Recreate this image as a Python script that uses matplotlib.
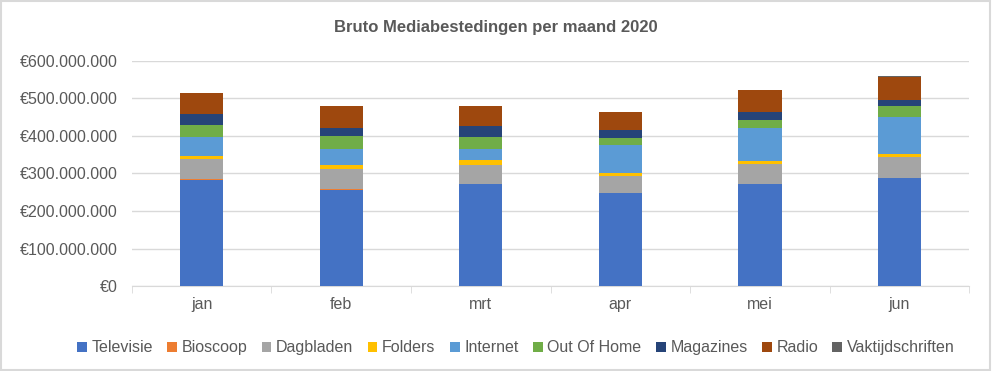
import numpy as np
import matplotlib.pyplot as plt
from matplotlib.patches import Rectangle
from matplotlib.ticker import FuncFormatter

maanden = ["jan", "feb", "mrt", "apr", "mei", "jun"]
televisie = [282, 257, 272, 247, 272, 287]
bioscoop = [2.5, 2.7, 1.0, 0.0, 0.0, 0.5]
dagbladen = [53, 53, 50, 47, 53, 55]
folders = [9, 10, 12, 6, 7, 9]
internet = [51, 42, 31, 75, 90, 100]
out_of_home = [32, 36, 32, 19, 20, 29]
magazines = [28, 21, 28, 22, 22, 16]
radio = [57, 57, 53, 47, 57, 60]
vaktijdschriften = [1.0, 1.3, 1.3, 1.0, 1.0, 3.5]

series = [
    ("Televisie", televisie, "#4472C4"),
    ("Bioscoop", bioscoop, "#ED7D31"),
    ("Dagbladen", dagbladen, "#A5A5A5"),
    ("Folders", folders, "#FFC000"),
    ("Internet", internet, "#5B9BD5"),
    ("Out Of Home", out_of_home, "#70AD47"),
    ("Magazines", magazines, "#264478"),
    ("Radio", radio, "#9E480E"),
    ("Vaktijdschriften", vaktijdschriften, "#636363"),
]

plt.rcParams["font.family"] = ["Liberation Sans", "DejaVu Sans"]
txt = "#595959"
grid = "#D9D9D9"

fig = plt.figure(figsize=(9.92, 3.71), dpi=100)
ax = fig.add_axes([0.133, 0.229, 0.844, 0.607])

x = np.arange(len(maanden))
bottom = np.zeros(len(maanden))
for naam, waarden, kleur in series:
    v = np.array(waarden) * 1e6
    ax.bar(x, v, 0.31, bottom=bottom, color=kleur, label=naam, zorder=3)
    bottom += v

ax.set_xlim(-0.5, len(maanden) - 0.5)
ax.set_ylim(0, 600e6)
ax.set_yticks(np.arange(0, 600e6 + 1, 100e6))


def euro(v, pos):
    return "€" + f"{int(v):,}".replace(",", ".")


ax.yaxis.set_major_formatter(FuncFormatter(euro))
ax.grid(axis="y", color=grid, linewidth=1, zorder=0)
for s in ["top", "right", "left"]:
    ax.spines[s].set_visible(False)
ax.spines["bottom"].set_color(grid)
ax.tick_params(axis="y", length=0, labelsize=11.5, labelcolor=txt, pad=10)
ax.set_xticks(x)
ax.set_xticklabels(maanden)
ax.tick_params(axis="x", length=0, labelsize=11.5, labelcolor=txt, pad=8)
ax.set_xticks(np.arange(-0.5, len(maanden)), minor=True)
ax.tick_params(axis="x", which="minor", length=5, color=grid)

fig.text(0.5, 0.925, "Bruto Mediabestedingen per maand 2020", ha="center",
         va="center", fontsize=12, fontweight="bold", color=txt)

ax.legend(loc="center", bbox_to_anchor=(0.52, 0.062), bbox_transform=fig.transFigure,
          ncol=9, frameon=False, fontsize=11.5, labelcolor=txt,
          handlelength=0.6, handleheight=0.6, handletextpad=0.3, columnspacing=0.9)

fig.patches.append(Rectangle((0.001, 0.002), 0.997, 0.995, transform=fig.transFigure,
                             fill=False, edgecolor=grid, linewidth=1.5))

fig.savefig("out.png", dpi=100)
